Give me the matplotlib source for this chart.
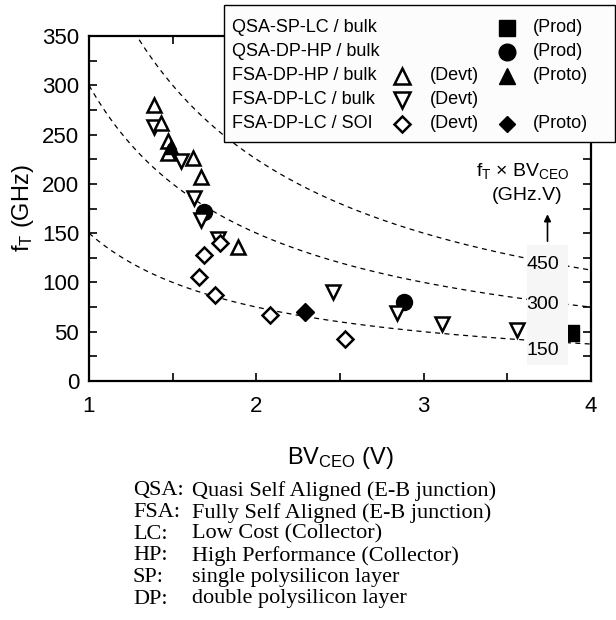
import numpy as np
import matplotlib
matplotlib.use("Agg")
import matplotlib.pyplot as plt
from matplotlib.lines import Line2D
from matplotlib.patches import Rectangle

plt.rcParams['font.family'] = ['Liberation Sans', 'DejaVu Sans']
plt.rcParams['mathtext.fontset'] = 'custom'
plt.rcParams['mathtext.rm'] = 'Liberation Sans'
plt.rcParams['mathtext.it'] = 'Liberation Sans:italic'

# ---- data: BVceo (V), fT (GHz) ----
fsa_hp_devt_bv = [1.39, 1.43, 1.47, 1.47, 1.62, 1.67, 1.89]
fsa_hp_devt_ft = [280, 262, 243, 231, 226, 207, 136]
fsa_hp_proto_bv = [1.49]
fsa_hp_proto_ft = [237]

fsa_lc_devt_bv = [1.39, 1.55, 1.63, 1.67, 1.77, 2.46, 2.84, 3.11, 3.56]
fsa_lc_devt_ft = [258, 223, 186, 163, 144, 90, 69, 58, 52]

soi_devt_bv = [1.78, 1.69, 1.66, 1.75, 2.08, 2.53]
soi_devt_ft = [140, 128, 106, 87, 67, 43]
soi_proto_bv = [2.29]
soi_proto_ft = [70]

qsa_hp_prod_bv = [1.69, 2.88]
qsa_hp_prod_ft = [171, 80]

qsa_lc_prod_bv = [3.88]
qsa_lc_prod_ft = [49]

# constant fT x BVceo contours (GHz.V)
products = [150, 300, 450]

x_ticks = [1, 2, 3, 4]
y_ticks = [0, 50, 100, 150, 200, 250, 300, 350]

W, H = 616, 620
fig = plt.figure(figsize=(W / 100, H / 100), dpi=100)
ax = fig.add_axes([89 / W, 1 - 381 / H, (591 - 89) / W, (381 - 36) / H])

ax.set_xlim(1, 4)
ax.set_ylim(0, 350)

# contour curves
xs = np.linspace(1, 4, 400)
for p in products:
    ax.plot(xs, p / xs, ls=(0, (4, 3.5)), color='black', lw=0.9, zorder=1)

# light panel that carries the contour labels
ax.add_patch(Rectangle((3.62, 16), 0.245, 122, facecolor='#f6f6f6',
                       edgecolor='none', zorder=4))
label_y = {450: 118, 300: 78, 150: 31}
for p in products:
    ax.text(3.71, label_y[p], str(p), fontsize=14, ha='center', va='center',
            zorder=5)

ax.annotate('', xy=(3.74, 172), xytext=(3.74, 139),
            arrowprops=dict(arrowstyle='-|>', color='black', lw=1.2,
                            mutation_scale=10), zorder=5)
ax.text(3.595, 213, r'f$_\mathregular{T}$ × BV$_\mathregular{CEO}$',
        fontsize=14, ha='center', va='center', zorder=5)
ax.text(3.62, 188, '(GHz.V)', fontsize=14, ha='center', va='center',
        zorder=5)

ew = 1.8
ms_tri = 10.5
ax.plot(qsa_lc_prod_bv, qsa_lc_prod_ft, 's', ms=11, color='black', zorder=3)
ax.plot(qsa_hp_prod_bv, qsa_hp_prod_ft, 'o', ms=11.5, color='black', zorder=6)
ax.plot(fsa_lc_devt_bv, fsa_lc_devt_ft, 'v', ms=ms_tri, mfc='white',
        mec='black', mew=ew, zorder=7)
ax.plot(soi_devt_bv, soi_devt_ft, 'D', ms=8, mfc='white', mec='black',
        mew=ew, zorder=8)
ax.plot(fsa_hp_devt_bv, fsa_hp_devt_ft, '^', ms=ms_tri, mfc='white',
        mec='black', mew=ew, zorder=8)
ax.plot(fsa_hp_proto_bv, fsa_hp_proto_ft, '^', ms=ms_tri, color='black',
        zorder=9)
ax.plot(soi_proto_bv, soi_proto_ft, 'D', ms=9, color='black', zorder=9)

ax.set_xticks(x_ticks)
ax.set_xticks([1.5, 2.5, 3.5], minor=True)
ax.set_yticks(y_ticks)
ax.set_yticks(np.arange(25, 350, 50), minor=True)
ax.tick_params(which='both', direction='in', length=6, width=1.2,
               top=True, right=True, labelsize=16)
ax.tick_params(axis='x', pad=11)
ax.tick_params(axis='y', pad=7)
for s in ax.spines.values():
    s.set_linewidth(1.6)

ax.set_xlabel(r'BV$_\mathregular{CEO}$ (V)', fontsize=17, labelpad=20)
ax.set_ylabel(r'f$_\mathregular{T}$ (GHz)', fontsize=17, labelpad=4)

# legend panel drawn in figure pixel coordinates
def fx(px):
    return px / W

def fy(py):
    return 1 - py / H

fig.patches.append(Rectangle((fx(224), fy(142)), fx(615) - fx(224),
                             fy(5) - fy(142), transform=fig.transFigure,
                             facecolor='#fcfcfc', edgecolor='black', lw=1.0,
                             zorder=20))

rows = [
    ('QSA-SP-LC / bulk', None, None, 's', '(Prod)'),
    ('QSA-DP-HP / bulk', None, None, 'o', '(Prod)'),
    ('FSA-DP-HP / bulk', '^', '(Devt)', '^', '(Proto)'),
    ('FSA-DP-LC / bulk', 'v', '(Devt)', None, None),
    ('FSA-DP-LC / SOI', 'D', '(Devt)', 'D', '(Proto)'),
]
leg_size = {'s': 11, 'o': 12, '^': 11, 'v': 11, 'D': 8.5}
row_y = [27.7, 51.7, 76, 100, 124]
for (name, om, otxt, fm, ftxt), py in zip(rows, row_y):
    fig.text(fx(232), fy(py), name, fontsize=13, ha='left', va='center',
             zorder=21)
    if om:
        fig.add_artist(Line2D([fx(401.5)], [fy(py)], marker=om,
                              ms=leg_size[om], mfc='white', mec='black',
                              mew=ew, transform=fig.transFigure, zorder=21))
        fig.text(fx(430), fy(py), otxt, fontsize=13, ha='left', va='center',
                 zorder=21)
    if fm:
        fig.add_artist(Line2D([fx(506.5)], [fy(py)], marker=fm,
                              ms=leg_size[fm], color='black',
                              transform=fig.transFigure, zorder=21))
        fig.text(fx(533), fy(py), ftxt, fontsize=13, ha='left', va='center',
                 zorder=21)

# abbreviations
notes = [
    ('QSA:', 'Quasi Self Aligned (E-B junction)'),
    ('FSA:', 'Fully Self Aligned (E-B junction)'),
    ('LC:', 'Low Cost (Collector)'),
    ('HP:', 'High Performance (Collector)'),
    ('SP:', 'single polysilicon layer'),
    ('DP:', 'double polysilicon layer'),
]
note_y0, note_dy = 491, 21.6
for i, (abbr, desc) in enumerate(notes):
    py = note_y0 + i * note_dy
    fig.text(fx(133), fy(py), abbr, fontsize=16, family='Liberation Serif',
             ha='left', va='center')
    fig.text(fx(192), fy(py), desc, fontsize=16, family='Liberation Serif',
             ha='left', va='center')

fig.savefig('out.png', dpi=100)
